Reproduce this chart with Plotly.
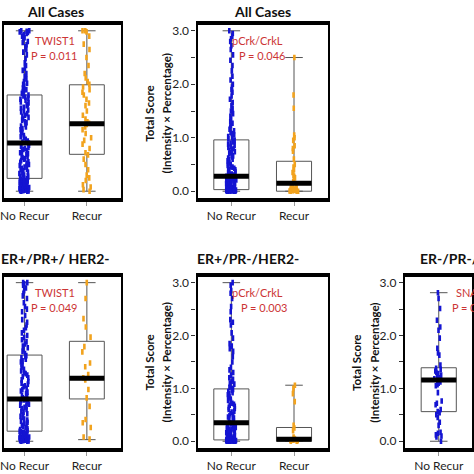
import plotly.graph_objects as go

W = H = 474
FONT = "Lato"

categories = ["No Recur", "Recur"]

# ---- panel texts ----
panel_titles = ["All Cases", "All Cases", "ER+/PR+/ HER2-", "ER+/PR-/HER2-", "ER-/PR-/HER2-"]
marker_names = ["TWIST1", "pCrk/CrkL", "TWIST1", "pCrk/CrkL", "SNAIL"]
p_texts = ["P = 0.011", "P = 0.046", "P = 0.049", "P = 0.003", "P = 0.021"]

y_tick_vals = [0, 0.5, 1, 1.5, 2, 2.5, 3]
y_tick_text = ["0.0", "", "1.0", "", "2.0", "", "3.0"]

# ---- box statistics per panel: [No Recur, Recur] ----
tl_q1, tl_med, tl_q3, tl_lo, tl_hi = [0.24, 0.69], [0.90, 1.26], [1.80, 1.99], [0.0, 0.0], [3.0, 3.0]
tm_q1, tm_med, tm_q3, tm_lo, tm_hi = [0.03, 0.0], [0.28, 0.15], [0.96, 0.56], [0.0, 0.0], [3.0, 2.5]
bl_q1, bl_med, bl_q3, bl_lo, bl_hi = [0.19, 0.80], [0.80, 1.19], [1.63, 1.89], [0.0, 0.03], [3.0, 3.0]
bm_q1, bm_med, bm_q3, bm_lo, bm_hi = [0.025, 0.0], [0.35, 0.04], [0.99, 0.26], [0.0, 0.0], [3.0, 1.06]
br_q1, br_med, br_q3, br_lo, br_hi = [0.56], [1.16], [1.39], [0.0], [2.81]

# ---- individual scores ----
tl_norecur = [0, 0, 0.005, 0.01, 0.01, 0.015, 0.02, 0.025, 0.03, 0.035, 0.04, 0.045, 0.05, 0.055, 0.06,
              0.07, 0.08, 0.08, 0.09, 0.1, 0.1, 0.11, 0.12, 0.12, 0.13, 0.14, 0.15, 0.15, 0.16, 0.17,
              0.18, 0.19, 0.2, 0.2, 0.21, 0.22, 0.23, 0.25, 0.26, 0.28, 0.29, 0.3, 0.32, 0.33, 0.35, 0.36,
              0.38, 0.4, 0.41, 0.43, 0.45, 0.47, 0.48, 0.5, 0.52, 0.54, 0.55, 0.57, 0.6, 0.61, 0.63, 0.65,
              0.67, 0.69, 0.7, 0.72, 0.74, 0.76, 0.78, 0.8, 0.82, 0.84, 0.86, 0.88, 0.9, 0.92, 0.94, 0.97,
              1.0, 1.02, 1.04, 1.07, 1.1, 1.12, 1.15, 1.17, 1.2, 1.22, 1.25, 1.28, 1.3, 1.33, 1.35, 1.38,
              1.4, 1.42, 1.45, 1.48, 1.5, 1.52, 1.55, 1.57, 1.6, 1.62, 1.65, 1.67, 1.7, 1.72, 1.74, 1.76,
              1.78, 1.8, 1.83, 1.86, 1.88, 1.9, 1.93, 1.96, 2.0, 2.02, 2.05, 2.1, 2.15, 2.2, 2.26, 2.3,
              2.35, 2.4, 2.48, 2.55, 2.6, 2.65, 2.7, 2.74, 2.78, 2.8, 2.84, 2.87, 2.9, 2.93, 2.95, 2.97,
              2.98, 2.99, 3.0, 3.0]
tl_recur = [3.0, 3.0, 2.98, 2.9, 2.75, 2.65, 2.5, 2.35, 2.2, 2.12, 2.05, 2.0, 1.95, 1.9, 1.85, 1.8, 1.72,
            1.65, 1.6, 1.5, 1.42, 1.35, 1.3, 1.27, 1.25, 1.2, 1.15, 1.08, 1.0, 0.95, 0.88, 0.8, 0.72, 0.68,
            0.6, 0.5, 0.4, 0.3, 0.25, 0.2, 0.12, 0.08, 0.03, 0.0]

tm_norecur = [0, 0, 0, 0.002, 0.004, 0.005, 0.006, 0.008, 0.01, 0.01, 0.012, 0.014, 0.015, 0.016, 0.018,
              0.02, 0.02, 0.022, 0.024, 0.025, 0.026, 0.028, 0.03, 0.03, 0.032, 0.034, 0.035, 0.036,
              0.04, 0.045, 0.05, 0.05, 0.06, 0.07, 0.08, 0.08, 0.09, 0.1, 0.1, 0.11, 0.12, 0.12, 0.13, 0.14,
              0.15, 0.15, 0.16, 0.17, 0.18, 0.18, 0.19, 0.2, 0.2, 0.21, 0.22, 0.22, 0.23, 0.24, 0.24,
              0.25, 0.25, 0.26, 0.26, 0.27, 0.27, 0.28, 0.28, 0.3, 0.31, 0.32, 0.34, 0.35, 0.37, 0.38,
              0.4, 0.41, 0.43, 0.45, 0.46, 0.48, 0.5, 0.52, 0.53, 0.55, 0.57, 0.59, 0.6, 0.62, 0.64, 0.66,
              0.68, 0.7, 0.72, 0.74, 0.76, 0.78, 0.8, 0.82, 0.84, 0.86, 0.88, 0.9, 0.92, 0.94, 0.95, 0.98,
              1.0, 1.02, 1.05, 1.08, 1.1, 1.13, 1.16, 1.2, 1.23, 1.27, 1.3, 1.35, 1.4, 1.45, 1.5, 1.55,
              1.6, 1.66, 1.72, 1.78, 1.85, 1.9, 1.95, 2.0, 2.08, 2.15, 2.25, 2.35, 2.45, 2.55, 2.65, 2.72,
              2.8, 2.85, 2.9, 2.95, 3.0]
tm_recur = [0, 0, 0, 0.005, 0.01, 0.01, 0.015, 0.02, 0.02, 0.03, 0.04, 0.05, 0.06, 0.08, 0.1, 0.1, 0.12,
            0.14, 0.18, 0.2, 0.25, 0.28, 0.3, 0.35, 0.4, 0.45, 0.5, 0.6, 0.75, 0.8, 0.85, 0.95, 1.0, 1.05,
            1.55, 1.8, 2.5]

bl_norecur = [0, 0, 0.005, 0.01, 0.01, 0.015, 0.02, 0.02, 0.025, 0.03, 0.04, 0.05, 0.05, 0.06, 0.07, 0.08,
              0.09, 0.1, 0.1, 0.11, 0.12, 0.13, 0.14, 0.15, 0.15, 0.16, 0.17, 0.17, 0.18, 0.19, 0.2, 0.22,
              0.24, 0.26, 0.28, 0.3, 0.32, 0.34, 0.36, 0.38, 0.4, 0.42, 0.45, 0.47, 0.5, 0.52, 0.55, 0.57,
              0.6, 0.62, 0.64, 0.66, 0.68, 0.7, 0.72, 0.74, 0.75, 0.77, 0.78, 0.8, 0.82, 0.85, 0.87, 0.9,
              0.93, 0.95, 0.98, 1.0, 1.03, 1.05, 1.08, 1.1, 1.13, 1.16, 1.2, 1.22, 1.25, 1.28, 1.3, 1.33,
              1.36, 1.4, 1.43, 1.46, 1.5, 1.52, 1.55, 1.58, 1.6, 1.62, 1.66, 1.7, 1.73, 1.77, 1.8, 1.84,
              1.88, 1.92, 1.96, 2.0, 2.05, 2.1, 2.15, 2.2, 2.25, 2.3, 2.38, 2.45, 2.5, 2.55, 2.62, 2.7,
              2.75, 2.8, 2.85, 2.9, 2.95, 2.98, 3.0, 3.0]
bl_recur = [3.0, 2.7, 2.32, 2.16, 1.97, 1.79, 1.69, 1.48, 1.41, 1.26, 1.2, 1.16, 0.98, 0.82, 0.66, 0.41,
            0.35, 0.26, 0.08, 0.04]

bm_norecur = [0, 0, 0, 0.002, 0.003, 0.004, 0.005, 0.006, 0.007, 0.008, 0.009, 0.01, 0.01, 0.011, 0.012,
              0.013, 0.014, 0.015, 0.016, 0.017, 0.018, 0.019, 0.02, 0.02, 0.021, 0.022, 0.023, 0.024,
              0.025, 0.025,
              0.03, 0.04, 0.05, 0.06, 0.07, 0.08, 0.09, 0.1, 0.11, 0.12, 0.13, 0.14, 0.15, 0.16, 0.17,
              0.18, 0.19, 0.2, 0.21, 0.22, 0.23, 0.24, 0.25, 0.26, 0.28, 0.29, 0.3, 0.32, 0.33, 0.34,
              0.36, 0.38, 0.4, 0.42, 0.44, 0.46, 0.48, 0.5, 0.52, 0.55, 0.57, 0.6, 0.62, 0.64, 0.66, 0.68,
              0.7, 0.72, 0.75, 0.77, 0.8, 0.82, 0.84, 0.86, 0.88, 0.9, 0.92, 0.94, 0.96, 0.98,
              1.0, 1.02, 1.05, 1.08, 1.1, 1.13, 1.17, 1.2, 1.25, 1.3, 1.35, 1.4, 1.5, 1.6, 1.7, 1.75,
              1.8, 1.85, 1.95, 2.05, 2.2, 2.25, 2.3, 2.45, 2.55, 2.7, 2.8, 2.85, 2.95, 3.0]
bm_recur = [0, 0, 0.01, 0.02, 0.02, 0.03, 0.04, 0.05, 0.08, 0.2, 0.25, 0.3, 0.75, 0.9, 1.0, 1.06]

br_norecur = [2.81, 2.7, 2.51, 2.29, 2.16, 2.1, 1.95, 1.76, 1.67, 1.63, 1.44, 1.38, 1.36, 1.33, 1.3,
              1.28, 1.25, 1.22, 1.2, 1.18, 1.16, 1.14, 1.12, 1.1, 1.07, 1.05, 0.92, 0.76, 0.72, 0.69,
              0.6, 0.56, 0.54, 0.5, 0.45, 0.36, 0.3, 0.17, 0.15, 0.12, 0.1, 0.08, 0.0]

BLUE = "#1414d2"
ORANGE = "#f2a31e"
RED = "#cc3535"


def px_x(p):
    return p / W


def px_y(p):
    return 1 - p / H


# layout geometry in pixels (left, right, top, bottom) and x-ranges
panels = [
    dict(stats=(tl_q1, tl_med, tl_q3, tl_lo, tl_hi), pts=[tl_norecur, tl_recur], cats=categories,
         dom=(0, 118, 23, 197), xr=[-0.33, 1.54], yt=False),
    dict(stats=(tm_q1, tm_med, tm_q3, tm_lo, tm_hi), pts=[tm_norecur, tm_recur], cats=categories,
         dom=(196, 328, 23, 197), xr=[-0.54, 1.54], yt=True),
    dict(stats=(bl_q1, bl_med, bl_q3, bl_lo, bl_hi), pts=[bl_norecur, bl_recur], cats=categories,
         dom=(0, 118, 276, 448), xr=[-0.33, 1.54], yt=False),
    dict(stats=(bm_q1, bm_med, bm_q3, bm_lo, bm_hi), pts=[bm_norecur, bm_recur], cats=categories,
         dom=(196, 328, 276, 448), xr=[-0.54, 1.54], yt=True),
    dict(stats=(br_q1, br_med, br_q3, br_lo, br_hi), pts=[br_norecur], cats=categories[:1],
         dom=(406, 474, 276, 448), xr=[-0.54, 0.53], yt=True),
]

fig = go.Figure()
layout_axes = {}
for i, p in enumerate(panels, start=1):
    xa = "x" if i == 1 else f"x{i}"
    ya = "y" if i == 1 else f"y{i}"
    q1, med, q3, lo, hi = p["stats"]
    cats = p["cats"]
    # box with white fill
    fig.add_trace(go.Box(x=cats, q1=q1, median=med, q3=q3, lowerfence=lo, upperfence=hi,
                         boxpoints=False, fillcolor="white", whiskerwidth=0.5,
                         line=dict(color="#555555", width=1), xaxis=xa, yaxis=ya,
                         hoverinfo="skip"))
    # jittered individual scores
    for cat, vals, col in zip(cats, p["pts"], [BLUE, ORANGE]):
        fig.add_trace(go.Box(x=[cat] * len(vals), y=vals, boxpoints="all", jitter=0.3, pointpos=0,
                             fillcolor="rgba(0,0,0,0)", line=dict(color="rgba(0,0,0,0)", width=0),
                             marker=dict(symbol="line-ns", size=4, color=col,
                                         line=dict(width=2.6, color=col)),
                             xaxis=xa, yaxis=ya, hoverinfo="skip"))
    # thick median bar
    fig.add_trace(go.Box(x=cats, q1=med, median=med, q3=med, lowerfence=med, upperfence=med,
                         boxpoints=False, fillcolor="black", line=dict(color="black", width=5),
                         xaxis=xa, yaxis=ya, hoverinfo="skip"))

    l, r, t, b = p["dom"]
    axkey = "xaxis" if i == 1 else f"xaxis{i}"
    aykey = "yaxis" if i == 1 else f"yaxis{i}"
    layout_axes[axkey] = dict(domain=[px_x(l), px_x(r)], anchor=ya, type="category",
                              categoryorder="array", categoryarray=categories, range=p["xr"],
                              showline=True, mirror=True, linewidth=3.5, linecolor="black",
                              ticks="outside", ticklen=4, tickcolor="#999999",
                              tickfont=dict(family=FONT, size=12, color="#1e1e1e"),
                              showgrid=False, zeroline=False)
    layout_axes[aykey] = dict(domain=[px_y(b), px_y(t)], anchor=xa, range=[-0.13, 3.11],
                              tickvals=y_tick_vals, ticktext=y_tick_text,
                              showline=True, mirror=True, linewidth=2.2, linecolor="black",
                              ticks="outside" if p["yt"] else "", ticklen=4, tickcolor="#333333",
                              showticklabels=p["yt"],
                              tickfont=dict(family=FONT, size=12, color="#1e1e1e"),
                              showgrid=False, zeroline=False)

ann = []
title_pos = [(52, 10), (262, 10), (52, 258), (247, 258), (471, 258)]
for txt, (x, y) in zip(panel_titles, title_pos):
    ann.append(dict(text=f"<b>{txt}</b>", x=px_x(x), y=px_y(y), xref="paper", yref="paper",
                    showarrow=False, xanchor="center", yanchor="middle",
                    font=dict(family=FONT, size=14, color="#111111")))

name_pos = [(52, 39, "center"), (257, 39, "center"), (52, 292, "center"), (257, 292, "center"),
            (456, 292, "left")]
p_pos = [(51, 54, "center"), (261, 54, "center"), (51, 307, "center"), (263, 307, "center"),
         (452, 307, "left")]
for txt, (x, y, a) in zip(marker_names, name_pos):
    ann.append(dict(text=txt, x=px_x(x), y=px_y(y), xref="paper", yref="paper", showarrow=False,
                    xanchor=a, yanchor="middle", font=dict(family=FONT, size=11, color=RED)))
for txt, (x, y, a) in zip(p_texts, p_pos):
    ann.append(dict(text=txt, x=px_x(x), y=px_y(y), xref="paper", yref="paper", showarrow=False,
                    xanchor=a, yanchor="middle", font=dict(family=FONT, size=11, color=RED)))

ytitle_pos = [(147, 165, 112), (147, 165, 362), (357, 375, 362)]
for x1, x2, y in ytitle_pos:
    for txt, x in (("Total Score", x1), ("(Intensity × Percentage)", x2)):
        ann.append(dict(text=f"<b>{txt}</b>", x=px_x(x), y=px_y(y), xref="paper", yref="paper",
                        showarrow=False, textangle=-90, xanchor="center", yanchor="middle",
                        font=dict(family=FONT, size=11.5, color="#111111")))

fig.update_layout(width=W, height=H, margin=dict(l=0, r=0, t=0, b=0),
                  paper_bgcolor="white", plot_bgcolor="white", showlegend=False,
                  boxmode="overlay", boxgap=0.2, annotations=ann, **layout_axes)

fig.write_html("out.html", config={"displayModeBar": False},
               post_script="document.body.style.margin='0px';document.body.style.overflow='hidden';")
